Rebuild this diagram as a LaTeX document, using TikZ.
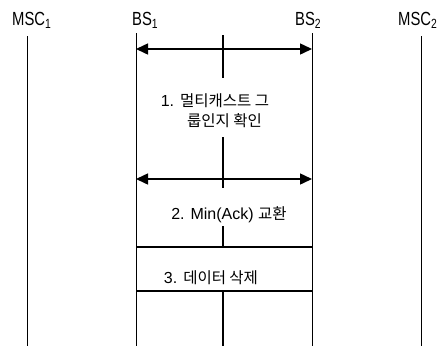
\documentclass[tikz,border=0pt]{standalone}
\usepackage{fontspec}
\setmainfont{Liberation Sans}
\newfontfamily\hdr{Liberation Sans}[FakeStretch=0.78]
\newfontfamily\kr{Noto Sans CJK KR}
\usetikzlibrary{arrows.meta}
\begin{document}
\begin{tikzpicture}[x=1pt,y=-1pt,
  head/.style={font=\hdr\fontsize{19}{21}\selectfont, inner sep=0pt, anchor=base west},
  life/.style={line width=1pt},
  mid/.style={line width=2pt},
  msg/.style={line width=1.5pt, {Triangle[length=12pt,width=11pt]}-{Triangle[length=12pt,width=11pt]}},
  boxline/.style={line width=1.2pt},
  lab/.style={font=\fontsize{16}{18}\selectfont, inner sep=0pt, anchor=base}]
\newcommand\hk[1]{{\kr\fontsize{15.5}{18}\selectfont #1}}
\useasboundingbox (0,0) rectangle (447,346);
% headers
\node[head] (msc1) at (12,25) {MSC\textsubscript{1}};
\node[head] (bs1) at (132,25) {BS\textsubscript{1}};
\node[head] (bs2) at (295,25) {BS\textsubscript{2}};
\node[head] (msc2) at (398,25) {MSC\textsubscript{2}};
% lifelines
\coordinate (m1t) at (27,36);  \coordinate (m1b) at (27,346);
\coordinate (b1t) at (136,33); \coordinate (b1b) at (136,346);
\coordinate (b2t) at (312,33); \coordinate (b2b) at (312,346);
\coordinate (m2t) at (421,36); \coordinate (m2b) at (421,346);
\draw[life] (m1t) -- (m1b);
\draw[life] (b1t) -- (b1b);
\draw[life] (b2t) -- (b2b);
\draw[life] (m2t) -- (m2b);
% centre line segments
\coordinate (c1) at (223,35);  \coordinate (c2) at (223,78);
\coordinate (c3) at (223,137); \coordinate (c4) at (223,188);
\coordinate (c5) at (223,226); \coordinate (c6) at (223,247);
\coordinate (c7) at (223,291); \coordinate (c8) at (223,346);
\draw[mid] (c1) -- (c2);
\draw[mid] (c3) -- (c4);
\draw[mid] (c5) -- (c6);
\draw[mid] (c7) -- (c8);
% arrows
\coordinate (a1l) at (136,49);  \coordinate (a1r) at (312,49);
\coordinate (a2l) at (136,179); \coordinate (a2r) at (312,179);
\draw[msg] (a1l) -- (a1r);
\draw[msg] (a2l) -- (a2r);
% box
\coordinate (bxtl) at (136,247); \coordinate (bxtr) at (312,247);
\coordinate (bxbl) at (136,291); \coordinate (bxbr) at (312,291);
\draw[boxline] (bxtl) -- (bxtr);
\draw[boxline] (bxbl) -- (bxbr);
% labels
\node[lab] (t1a) at (215,106) {1. \hk{멀티캐스트 그}};
\node[lab] (t1b) at (224.5,126) {\hk{룹인지 확인}};
\node[lab] (t2) at (229,219) {2. Min(Ack) \hk{교환}};
\node[lab] (t3) at (211,283) {3. \hk{데이터 삭제}};
\end{tikzpicture}
\end{document}
